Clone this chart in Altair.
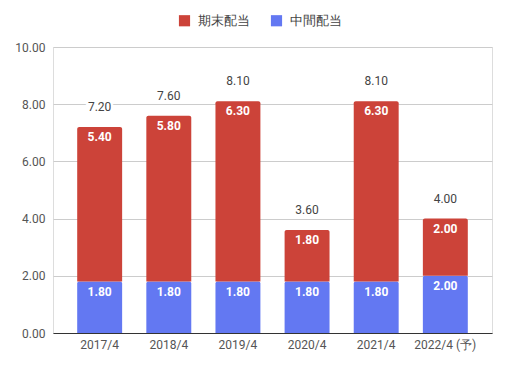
import altair as alt
import pandas as pd

years = ["2017/4", "2018/4", "2019/4", "2020/4", "2021/4", "2022/4 (予)"]
interim = [1.80, 1.80, 1.80, 1.80, 1.80, 2.00]
year_end = [5.40, 5.80, 6.30, 1.80, 6.30, 2.00]
totals = [7.20, 7.60, 8.10, 3.60, 8.10, 4.00]
series = ["期末配当", "中間配当"]
colors = ["#cc4339", "#6378f2"]

rows = []
for y, a, b in zip(years, interim, year_end):
    rows.append({"year": y, "series": "中間配当", "value": a, "order": 0, "start": 0, "end": a})
    rows.append({"year": y, "series": "期末配当", "value": b, "order": 1, "start": a, "end": a + b})
df = pd.DataFrame(rows)
tdf = pd.DataFrame({"year": years, "total": totals})

FONT = "Roboto"
xenc = alt.X("year:N", sort=years, title=None,
             scale=alt.Scale(paddingInner=0.35, paddingOuter=0.35),
             axis=alt.Axis(labelAngle=0, labelColor="#555555", labelFontSize=12, labelFont=FONT,
                           domainColor="#333333", domainWidth=1, ticks=False, labelPadding=6))

yscale = alt.Scale(domain=[0, 10], nice=False)

bars = alt.Chart(df).mark_bar(cornerRadiusTopLeft=2, cornerRadiusTopRight=2).encode(
    x=xenc,
    y=alt.Y("start:Q", scale=yscale, title=None,
            axis=alt.Axis(values=list(range(0, 11)), domain=False, ticks=False,
                          labelExpr="datum.value % 2 == 0 ? format(datum.value, '.2f') : ''",
                          labelColor="#555555", labelFontSize=12, labelFont=FONT, labelPadding=8,
                          gridColor={"condition": {"test": "datum.value % 2 == 1", "value": "#ebebeb"},
                                     "value": "#cccccc"})),
    y2="end:Q",
    color=alt.Color("series:N", sort=series,
                    scale=alt.Scale(domain=series, range=colors),
                    legend=alt.Legend(title=None, orient="none", direction="horizontal",
                                      legendX=125, legendY=-33, symbolType="square", symbolSize=125,
                                      symbolStrokeWidth=0, labelFontSize=13, labelFont=FONT,
                                      labelColor="#444444", columnPadding=20, labelOffset=7)),
    order=alt.Order("order:Q"),
)

inner = alt.Chart(df).mark_text(color="white", fontWeight="bold", fontSize=12, font=FONT,
                                baseline="middle", dy=10).encode(
    x=alt.X("year:N", sort=years),
    y=alt.Y("end:Q", scale=yscale),
    text=alt.Text("value:Q", format=".2f"),
)

halo = alt.Chart(tdf).mark_text(color="white", stroke="white", strokeWidth=5, fontSize=12, font=FONT,
                                baseline="middle", dy=-20).encode(
    x=alt.X("year:N", sort=years),
    y=alt.Y("total:Q", scale=yscale),
    text=alt.Text("total:Q", format=".2f"),
)
top = alt.Chart(tdf).mark_text(color="#444444", fontSize=12, font=FONT,
                               baseline="middle", dy=-20).encode(
    x=alt.X("year:N", sort=years),
    y=alt.Y("total:Q", scale=yscale),
    text=alt.Text("total:Q", format=".2f"),
)

chart = alt.layer(bars, inner, halo, top).properties(
    width=439, height=286,
    autosize=alt.AutoSizeParams(type="none"),
    padding={"left": 45, "top": 39, "right": 8, "bottom": 26},
).configure_view(stroke=None).configure(font=FONT)

chart.save("out.html", embed_options={"renderer": "svg", "actions": False})
